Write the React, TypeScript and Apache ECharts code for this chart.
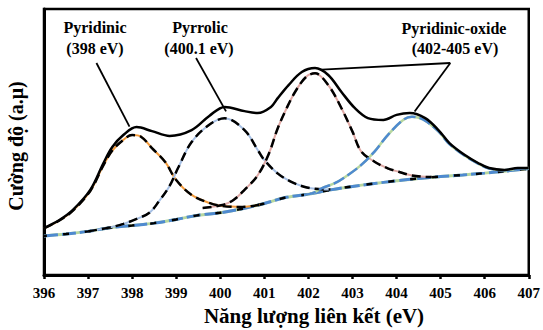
import React, { useEffect, useRef } from "react";
import * as echarts from "echarts";

// X tick range (binding energy, eV)
const xTicks = [396, 397, 398, 399, 400, 401, 402, 403, 404, 405, 406, 407];

// Measured envelope (solid black)
const envelope: [number, number][] = [
  [396.0, 17.7], [396.35, 20.7], [396.65, 24.4], [397.05, 32.0], [397.35, 42.1],
  [397.55, 48.1], [397.8, 52.6], [398.1, 55.6], [398.45, 54.1], [398.85, 52.3],
  [399.35, 54.5], [399.75, 59.8], [400.1, 63.2], [400.55, 61.6], [400.85, 60.9],
  [401.15, 63.2], [401.3, 66.4], [401.55, 71.4], [401.85, 76.3], [402.15, 77.8],
  [402.45, 75.2], [402.75, 68.8], [403.05, 62.8], [403.35, 59.0], [403.7, 58.3],
  [404.0, 60.2], [404.3, 60.9], [404.65, 59.0], [404.95, 54.5], [405.2, 49.6],
  [405.55, 45.1], [405.85, 42.1], [406.1, 40.2], [406.45, 39.5], [406.75, 40.2],
  [407.0, 40.2],
];

// Pyridinic component (398 eV)
const pyridinic: [number, number][] = [
  [396.0, 17.5], [396.35, 20.5], [396.65, 24.1], [397.05, 31.6], [397.35, 41.3],
  [397.55, 46.8], [397.8, 50.8], [398.0, 52.6], [398.2, 52.0], [398.45, 47.7],
  [398.75, 42.5], [399.0, 35.7], [399.35, 30.1], [399.75, 27.1], [400.05, 25.9],
  [400.5, 25.6], [400.9, 26.4],
];

// Pyrrolic component (400.1 eV)
const pyrrolic: [number, number][] = [
  [397.0, 16.4], [397.5, 17.9], [397.8, 19.2], [398.15, 21.4], [398.4, 23.5],
  [398.6, 27.5], [398.85, 33.5], [399.05, 40.5], [399.35, 50.0], [399.75, 56.5],
  [400.1, 58.9], [400.55, 54.5], [400.85, 47.0], [401.0, 43.2], [401.3, 38.2],
  [401.6, 35.1], [401.9, 33.2], [402.15, 32.4], [402.5, 32.1],
];

// Pyridinic-oxide component near 402 eV
const oxideA: [number, number][] = [
  [399.6, 25.2], [400.05, 26.3], [400.3, 28.2], [400.55, 32.0], [400.85, 37.5],
  [401.1, 45.5], [401.3, 55.0], [401.5, 62.5], [401.7, 68.9], [401.95, 74.5],
  [402.15, 75.8], [402.45, 71.4], [402.75, 62.7], [403.0, 53.9], [403.2, 46.4],
  [403.5, 42.6], [403.8, 40.1], [404.05, 38.8], [404.3, 37.6], [404.55, 37.0],
  [404.8, 36.8],
];

// Pyridinic-oxide component near 404.3 eV
const oxideB: [number, number][] = [
  [401.9, 30.2], [402.1, 30.8], [402.3, 32.6], [402.6, 34.5], [402.9, 37.6],
  [403.2, 41.4], [403.5, 46.4], [403.8, 52.6], [404.15, 58.3], [404.35, 59.5],
  [404.6, 58.5], [404.95, 54.0], [405.2, 49.2], [405.55, 44.8], [405.85, 41.9],
  [406.1, 40.0], [406.45, 39.4], [406.75, 39.9], [407.0, 40.2],
];

// Background
const baseline: [number, number][] = [
  [396.0, 14.7], [396.5, 15.4], [397.0, 16.4], [397.5, 17.8], [398.0, 18.6],
  [398.5, 19.5], [399.0, 20.9], [399.5, 22.5], [400.0, 23.4], [400.5, 24.9],
  [401.0, 26.9], [401.5, 29.2], [402.0, 30.4], [402.5, 32.0], [403.0, 33.3],
  [403.5, 34.4], [404.0, 35.4], [404.5, 36.3], [405.0, 37.0], [405.5, 37.6],
  [406.0, 38.3], [406.5, 39.1], [407.0, 40.0],
];

// Annotation labels
const labelTexts = ["Pyridinic", "(398 eV)", "Pyrrolic", "(400.1 eV)", "Pyridinic-oxide", "(402-405 eV)"];
const xTitle = "Năng lượng liên kết (eV)";
const yTitle = "Cường độ (a.μ)";

const FONT = "Liberation Serif";

const line = (data: [number, number][], color: string, width: number, type: any, z = 2, dashOffset = 0) => ({
  type: "line",
  data,
  smooth: 0.35,
  showSymbol: false,
  symbol: "none",
  silent: true,
  z,
  lineStyle: { color, width, type, dashOffset, cap: "butt" },
});

export default function App() {
  const ref = useRef<HTMLDivElement>(null);
  useEffect(() => {
    if (!ref.current) return;
    const chart = echarts.init(ref.current, null, { renderer: "svg" });
    const txt = (text: string, x: number, y: number, size = 16) => ({
      type: "text",
      x,
      y,
      style: {
        text,
        fill: "#000",
        fontFamily: FONT,
        fontWeight: "bold",
        fontSize: size,
        align: "center",
        verticalAlign: "middle",
      },
    });
    const dashBlack = [9, 5];
    const envSeries: any = line(envelope, "#000", 2.5, "solid", 10);
    envSeries.markLine = {
      silent: true,
      animation: false,
      symbol: ["none", "arrow"],
      symbolSize: [0, 9],
      label: { show: false },
      lineStyle: { color: "#000", width: 1.8, type: "solid" },
      data: [
        [{ coord: [397.19, 79.7] }, { coord: [397.94, 55.8] }],
        [{ coord: [399.45, 81.6] }, { coord: [400.13, 61.5] }],
        [{ coord: [405.22, 79.7] }, { coord: [402.3, 77.2], symbol: "none" }],
        [{ coord: [405.22, 79.7] }, { coord: [404.41, 61.5] }],
      ],
    };
    chart.setOption({
      animation: false,
      grid: {
        left: 44, right: 11, top: 9, bottom: 55,
        show: true, borderColor: "#000", borderWidth: 2.5,
      },
      xAxis: {
        type: "value",
        min: xTicks[0],
        max: xTicks[xTicks.length - 1],
        interval: 1,
        axisLine: { show: true, onZero: false, lineStyle: { color: "#000", width: 3 } },
        axisTick: { show: true, inside: false, length: 4, lineStyle: { color: "#000", width: 2.5 } },
        axisLabel: { color: "#000", fontSize: 15, fontWeight: "bold", fontFamily: FONT, margin: 10 },
        splitLine: { show: false },
      },
      yAxis: {
        type: "value",
        min: 0,
        max: 100,
        axisLine: { show: true, lineStyle: { color: "#000", width: 3 } },
        axisTick: { show: false },
        axisLabel: { show: false },
        splitLine: { show: false },
      },
      series: [
        line(baseline, "#b7d79f", 3, "solid", 2),
        line(baseline, "#4f8ad0", 3, [14, 4], 3),
        line(baseline, "#000", 2.5, [6, 16], 4, 3),
        line(pyridinic, "#f39a3a", 2, "solid", 5),
        line(pyridinic, "#000", 2.5, dashBlack, 6),
        line(pyrrolic, "#a6bfe3", 2, "solid", 5),
        line(pyrrolic, "#000", 2.5, dashBlack, 6),
        line(oxideA, "#dfa9a5", 2, "solid", 5),
        line(oxideA, "#000", 2.5, dashBlack, 6),
        line(oxideB, "#b7d79f", 2.5, "solid", 5),
        line(oxideB, "#4f8ad0", 2.5, [12, 4], 6),
        envSeries,
      ],
      graphic: [
        txt(labelTexts[0], 95, 27),
        txt(labelTexts[1], 95, 48),
        txt(labelTexts[2], 200, 27),
        txt(labelTexts[3], 199, 48),
        txt(labelTexts[4], 454, 28),
        txt(labelTexts[5], 455, 48),
        txt(xTitle, 314, 316, 21),
        {
          type: "text",
          x: 16,
          y: 146,
          rotation: Math.PI / 2,
          style: {
            text: yTitle,
            fill: "#000",
            fontFamily: FONT,
            fontWeight: "bold",
            fontSize: 20,
            align: "center",
            verticalAlign: "middle",
          },
        },
      ],
    });
    return () => chart.dispose();
  }, []);
  return (
    <div
      ref={ref}
      style={{ position: "fixed", left: 0, top: 0, width: 543, height: 330, background: "#fff" }}
    />
  );
}
